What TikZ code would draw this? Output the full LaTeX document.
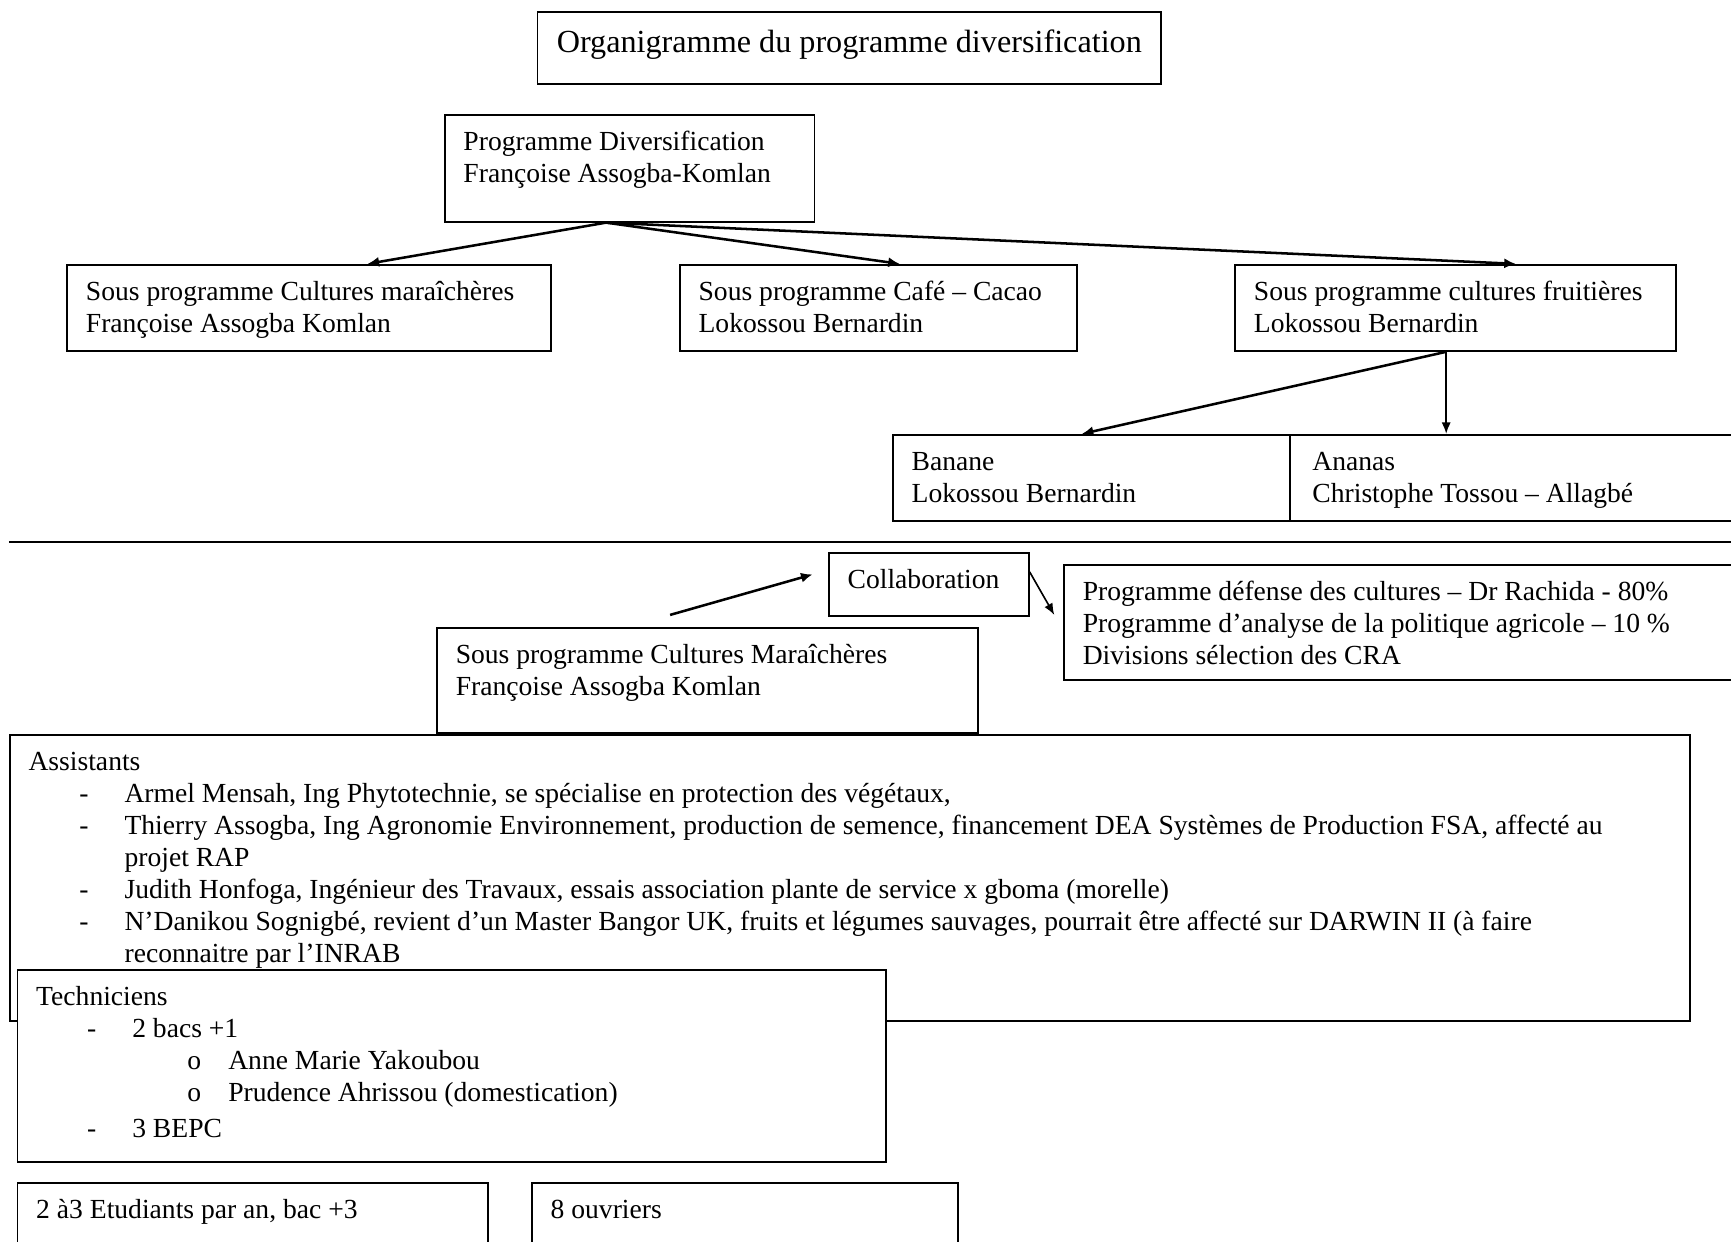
\documentclass[tikz,border=0pt]{standalone}
\usepackage{fontspec}
\setmainfont{Liberation Serif}
\usetikzlibrary{arrows.meta, positioning, calc}

\newlength\px \setlength\px{0.48pt}
% boite de texte alignee en haut
\newcommand{\cadre}[3]{\parbox[t][#2\px][t]{#1\px}{\raggedright\strut #3}}
\newcommand{\tiret}{\hspace*{46\px}\makebox[41\px][l]{-}}
\newcommand{\rond}{\hspace*{137\px}\makebox[37\px][l]{o}}
\newcommand{\suite}{\hspace*{87\px}}

\begin{document}
\begin{tikzpicture}[x=0.48pt, y=-0.48pt, font=\fontsize{12}{13.92}\selectfont]
% styles des boites
\tikzstyle{bloc} = [draw, line width=0.8pt, fill=white, anchor=north west, inner xsep=8.16pt, inner ysep=5.76pt]
\tikzstyle{fleche} = [draw, line width=1.1pt, -{Latex[length=5pt, width=4.4pt]}]
\tikzstyle{fine} = [draw, line width=0.7pt, -{Latex[length=5pt, width=4pt]}]

\useasboundingbox (0,0) rectangle (1568,1125);

% organigramme
\node [bloc, font=\fontsize{14}{16.8}\selectfont] (titre) at (486,10) {\parbox[t][41\px][t]{531\px}{\centering\strut Organigramme du programme diversification}};
\node [bloc] (prog) at (402,103) {\cadre{301}{73}{Programme Diversification\\Françoise Assogba-Komlan}};
\node [bloc] (maraich) at (60,239) {\cadre{404}{54}{Sous programme Cultures maraîchères\\Françoise Assogba Komlan}};
\node [bloc] (cafe) at (615,239) {\cadre{326}{54}{Sous programme Café – Cacao\\Lokossou Bernardin}};
\node [bloc] (fruit) at (1118,239) {\cadre{365}{54}{Sous programme cultures fruitières\\Lokossou Bernardin}};
\node [bloc] (banane) at (808,393) {\cadre{326}{54}{Banane\\Lokossou Bernardin}};
\node [bloc] (ananas) at (1168,393) {\cadre{386}{54}{\hspace*{3\px}Ananas\\\hspace*{3\px}Christophe Tossou – Allagbé}};

% liaisons
\path [fleche] ($(prog.south west)+(147,0)$) -- ($(maraich.north west)+(273,0)$);
\path [fleche] ($(prog.south west)+(147,0)$) -- ($(cafe.north west)+(200,0)$);
\path [fleche] ($(prog.south west)+(147,0)$) -- ($(fruit.north west)+(255,0)$);
\path [fleche] ($(fruit.south west)+(192,0)$) -- ($(banane.north west)+(172,0)$);
\path [fine] ($(fruit.south west)+(192,0)$) -- ($(ananas.north west)+(142,0)$);

% separation
\draw [line width=0.8pt] (8,491) -- (1580,491);

% collaboration
\node [bloc] (collab) at (750,500) {\cadre{147}{33}{Collaboration}};
\node [bloc] (partenaires) at (963,511) {\cadre{586}{80}{Programme défense des cultures – Dr Rachida - 80\%\\Programme d’analyse de la politique agricole – 10 \%\\Divisions sélection des CRA}};
\node [bloc] (spcm) at (395,568) {\cadre{456}{71}{Sous programme Cultures Maraîchères\\Françoise Assogba Komlan}};

\path [fleche] ($(spcm.north west)+(212,-11)$) -- ($(collab.west)+(-14,-9)$);
\path [fine] ($(collab.north east)+(0,18)$) -- ($(partenaires.north west)+(-8,46)$);

% equipe
\node [bloc] (assist) at (8,665) {\cadre{1488}{235}{Assistants\\
\tiret Armel Mensah, Ing Phytotechnie, se spécialise en protection des végétaux,\\
\tiret Thierry Assogba, Ing Agronomie Environnement, production de semence, financement DEA Systèmes de Production FSA, affecté au\\
\suite projet RAP\\
\tiret Judith Honfoga, Ingénieur des Travaux, essais association plante de service x gboma (morelle)\\
\tiret N’Danikou Sognigbé, revient d’un Master Bangor UK, fruits et légumes sauvages, pourrait être affecté sur DARWIN II (à faire\\
\suite reconnaitre par l’INRAB}};
\node [bloc] (techn) at (15,878) {\cadre{753}{150}{Techniciens\\
\tiret 2 bacs +1\\
\rond Anne Marie Yakoubou\\
\rond Prudence Ahrissou (domestication)\\[3\px]
\tiret 3 BEPC}};
\node [bloc] (etud) at (15,1071) {\cadre{392}{56}{2 à3 Etudiants par an, bac +3}};
\node [bloc] (ouvr) at (481,1071) {\cadre{352}{56}{8 ouvriers}};
\end{tikzpicture}
\end{document}
